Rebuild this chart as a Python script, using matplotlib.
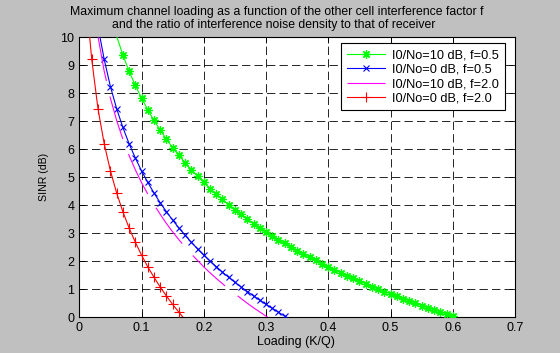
import matplotlib
matplotlib.use("Agg")
import matplotlib.pyplot as plt

plt.rcParams['font.family'] = ['Liberation Sans', 'DejaVu Sans']
plt.rcParams['lines.scale_dashes'] = False

# ---- data ----
# green: I0/No=10 dB, f=0.5 (markers at loading 0.07..0.60)
g_x = [0.0606] + [k / 100 for k in range(7, 61)]
g_y = [10.0, 9.37, 8.79, 8.28, 7.83, 7.41, 7.03, 6.69, 6.36, 6.06, 5.78, 5.52, 5.27, 5.04,
       4.82, 4.60, 4.40, 4.21, 4.02, 3.85, 3.68, 3.51, 3.35, 3.20, 3.05, 2.91, 2.77, 2.64,
       2.51, 2.38, 2.26, 2.14, 2.03, 1.91, 1.80, 1.70, 1.59, 1.49, 1.39, 1.29, 1.20, 1.10,
       1.01, 0.92, 0.84, 0.75, 0.67, 0.58, 0.50, 0.42, 0.34, 0.27, 0.19, 0.12, 0.04]
# blue: I0/No=0 dB, f=0.5 (markers at 0.04..0.33)
b_x = [0.0333] + [k / 100 for k in range(4, 34)] + [0.3333]
b_y = [10.0, 9.21, 8.24, 7.45, 6.78, 6.20, 5.69, 5.23, 4.82, 4.44, 4.09, 3.77, 3.47, 3.19,
       2.93, 2.68, 2.44, 2.22, 2.01, 1.81, 1.61, 1.43, 1.25, 1.08, 0.92, 0.76, 0.61, 0.46,
       0.32, 0.18, 0.04, 0.0]
# magenta: I0/No=10 dB, f=2.0 (dashed, no markers)
m_x = [0.0303] + [k / 100 for k in range(4, 31)] + [0.303]
m_y = [10.0, 8.79, 7.82, 7.03, 6.36, 5.78, 5.27, 4.81, 4.40, 4.02, 3.68, 3.35, 3.05, 2.77,
       2.51, 2.26, 2.03, 1.80, 1.59, 1.39, 1.20, 1.01, 0.84, 0.67, 0.50, 0.34, 0.19, 0.04, 0.0]
# red: I0/No=0 dB, f=2.0 (markers at 0.02..0.16)
r_x = [0.0167] + [k / 100 for k in range(2, 17)] + [0.1667]
r_y = [10.0, 9.21, 7.45, 6.20, 5.23, 4.44, 3.77, 3.19, 2.68, 2.22, 1.80, 1.43, 1.08, 0.76,
       0.46, 0.18, 0.0]

labels = ['I0/No=10 dB, f=0.5', 'I0/No=0 dB, f=0.5', 'I0/No=10 dB, f=2.0', 'I0/No=0 dB, f=2.0']
x_ticks = [0, 0.1, 0.2, 0.3, 0.4, 0.5, 0.6, 0.7]
x_ticklabels = ['0', '0.1', '0.2', '0.3', '0.4', '0.5', '0.6', '0.7']
y_ticks = list(range(0, 11))
title1 = 'Maximum channel loading as a function of the other cell interference factor f'
title2 = 'and the ratio of interference noise density to that of receiver'

W, H = 560, 353
fig = plt.figure(figsize=(5.6, 3.53), dpi=100, facecolor='#c0c0c0')
L, R, T, B = 79.3, 515.0, 37.3, 317.3
ax = fig.add_axes([L / W, 1 - B / H, (R - L) / W, (B - T) / H])
ax.set_facecolor('white')

fs = 9.0
ax.plot(g_x, g_y, color='#00ff00', lw=0.8, marker=(8, 2, 0), ms=6, mew=0.9,
        markevery=list(range(1, len(g_x))), label=labels[0], zorder=3)
ax.plot(b_x, b_y, color='#0000ff', lw=0.8, marker='x', ms=3.8, mew=0.8,
        markevery=list(range(1, len(b_x) - 1)), label=labels[1], zorder=3)
mline, = ax.plot(m_x, m_y, color='#ff00ff', lw=0.8, label=labels[2], zorder=3)
mline.set_dashes([32, 11.5])
ax.plot(r_x, r_y, color='#ff0000', lw=0.8, marker='+', ms=7, mew=0.8,
        markevery=list(range(1, len(r_x) - 1)), label=labels[3], zorder=3)

ax.set_xlim(0, 0.7)
ax.set_ylim(0, 10)
ax.set_xticks(x_ticks)
ax.set_xticklabels(x_ticklabels)
ax.set_yticks(y_ticks)
ax.tick_params(direction='in', length=4, width=0.6, top=True, right=True,
               labelsize=fs, pad=3.5)
for s in ax.spines.values():
    s.set_linewidth(0.8)
    s.set_color('black')

ax.grid(True, color='black', lw=0.6, dashes=(6, 3))

fig.text(277 / W, 1 - 11.7 / H, title1, fontsize=8.8, ha='center', va='center')
fig.text(274 / W, 1 - 24.6 / H, title2, fontsize=8.8, ha='center', va='center')
fig.text(295.5 / W, 1 - 341.7 / H, 'Loading (K/Q)', fontsize=fs, ha='center', va='center')
fig.text(44 / W, 1 - 177.3 / H, 'SINR (dB)', fontsize=7.6, ha='center', va='center',
         rotation=90)

leg = ax.legend(loc='upper right', bbox_to_anchor=((505 - L) / (R - L), (B - 43.3) / (B - T)),
                borderaxespad=0, fontsize=9.2, frameon=True, fancybox=False,
                framealpha=1, edgecolor='black', handlelength=3.0,
                labelspacing=0.2, handletextpad=0.55, borderpad=0.45)
leg.get_frame().set_linewidth(0.8)

fig.savefig('out.png', dpi=100, facecolor=fig.get_facecolor())
